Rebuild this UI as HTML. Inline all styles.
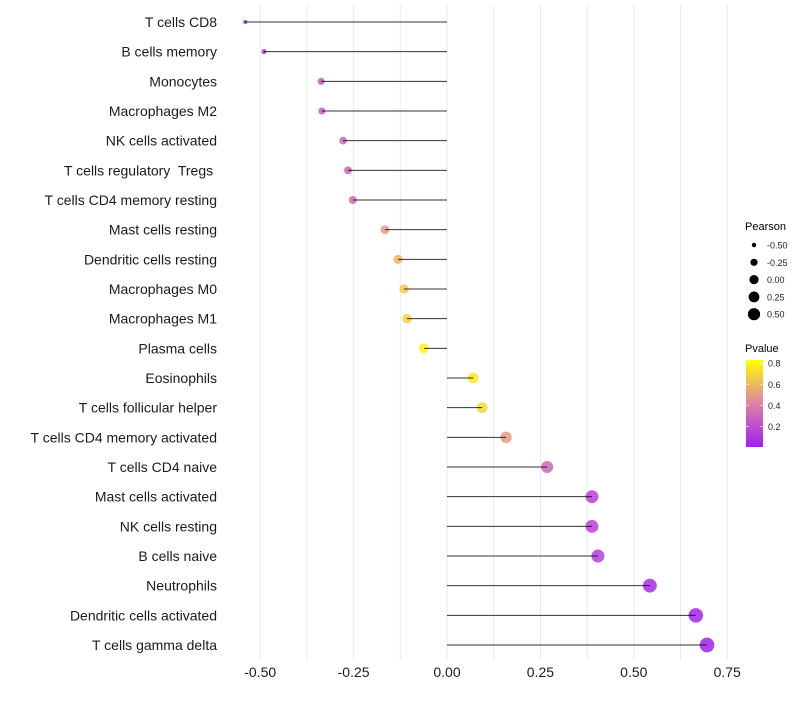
<!DOCTYPE html>
<html><head><meta charset="utf-8"><style>
body{margin:0;background:#fff;font-family:"Liberation Sans",sans-serif}
svg text{font-family:"Liberation Sans",sans-serif;white-space:pre}
</style></head><body>
<svg id="chart" width="800" height="700" viewBox="0 0 800 700">
<g id="grid"></g>
<g id="marks"></g>
<g id="ylab"></g>
<g id="xlab"></g>
<g id="legend"></g>
</svg>
<script>
const categories=["T cells CD8","B cells memory","Monocytes","Macrophages M2","NK cells activated","T cells regulatory  Tregs ","T cells CD4 memory resting","Mast cells resting","Dendritic cells resting","Macrophages M0","Macrophages M1","Plasma cells","Eosinophils","T cells follicular helper","T cells CD4 memory activated","T cells CD4 naive","Mast cells activated","NK cells resting","B cells naive","Neutrophils","Dendritic cells activated","T cells gamma delta"];
const pearson=[-0.54,-0.49,-0.337,-0.335,-0.278,-0.265,-0.252,-0.166,-0.131,-0.115,-0.107,-0.062,0.07,0.094,0.158,0.268,0.388,0.388,0.404,0.543,0.666,0.696];
const pvalue=[0.05,0.07,0.25,0.25,0.3,0.3,0.32,0.5,0.6,0.65,0.68,0.8,0.75,0.7,0.5,0.3,0.15,0.15,0.13,0.05,0.02,0.01];
const xTicks=[-0.5,-0.25,0,0.25,0.5,0.75];
const xTickLabels=["-0.50","-0.25","0.00","0.25","0.50","0.75"];
const sizeBreaks=[-0.5,-0.25,0,0.25,0.5];
const sizeLabels=["-0.50","-0.25","0.00","0.25","0.50"];
const pBreaks=[0.2,0.4,0.6,0.8];
const pLabels=["0.2","0.4","0.6","0.8"];
const NS="http://www.w3.org/2000/svg";
function mk(t,a,p){const e=document.createElementNS(NS,t);for(const k in a)e.setAttribute(k,a[k]);p.appendChild(e);return e;}
const x=v=>447+v*373.6;
const y=i=>22+i*29.667;
const r=v=>Math.sqrt(Math.max(1,26+40*v));
const pMin=0.005,pMax=0.83;
function lerp(a,b,t){return a+(b-a)*t}
const stops=[[0,[160,32,240]],[0.5,[222,130,165]],[1,[255,255,0]]];
function col(p){let t=Math.min(1,Math.max(0,(p-pMin)/(pMax-pMin)));let i=t<0.5?0:1;let s0=stops[i],s1=stops[i+1];let u=(t-s0[0])/(s1[0]-s0[0]);return "rgb("+s0[1].map((c,k)=>Math.round(lerp(c,s1[1][k],u))).join(",")+")";}
const grid=document.getElementById('grid');
for(let v=-0.5;v<=0.751;v+=0.125){const l=mk('line',{x1:x(v),x2:x(v),y1:5,y2:660,stroke:'#ebebeb','stroke-width':1},grid);}
const marks=document.getElementById('marks'),ylab=document.getElementById('ylab');
categories.forEach((c,i)=>{
 const d=mk('circle',{cx:x(pearson[i]),cy:y(i),r:r(pearson[i]),fill:col(pvalue[i]),'fill-opacity':0.85},marks);
 
 const l=mk('line',{x1:x(0),x2:x(pearson[i]),y1:y(i),y2:y(i),stroke:'#000','stroke-width':1,'stroke-opacity':0.8},marks);
 
 const t=mk('text',{x:217,y:y(i)+5,'text-anchor':'end','font-size':14,fill:'#1a1a1a'},ylab);t.textContent=c;
 
});
const xlab=document.getElementById('xlab');
xTicks.forEach((v,i)=>{const t=mk('text',{x:x(v),y:677,'text-anchor':'middle','font-size':14,fill:'#1a1a1a'},xlab);t.textContent=xTickLabels[i];});
const lg=document.getElementById('legend');
let t=mk('text',{x:745,y:230,'font-size':11,fill:'#000'},lg);t.textContent='Pearson';
sizeBreaks.forEach((v,i)=>{const cy=245+i*17.3;const c=mk('circle',{cx:754,cy:cy,r:r(v)*0.9,fill:'#000'},lg);
 const s=mk('text',{x:767,y:cy+3.5,'font-size':9,fill:'#222'},lg);s.textContent=sizeLabels[i];});
t=mk('text',{x:745,y:352,'font-size':11,fill:'#000'},lg);t.textContent='Pvalue';
const defs=mk('defs',{},lg);const gr=mk('linearGradient',{id:'pg',x1:0,y1:1,x2:0,y2:0},defs);
stops.forEach(s=>mk('stop',{offset:s[0],'stop-color':'rgb('+s[1].join(',')+')'},gr));
const py=p=>447-(p-pMin)/(pMax-pMin)*87;
const bar=mk('rect',{x:746,y:360,width:17,height:87,fill:'url(#pg)'},lg);
pBreaks.forEach((p,i)=>{mk('line',{x1:746,x2:749,y1:py(p),y2:py(p),stroke:'#fff','stroke-width':0.6},lg);mk('line',{x1:760,x2:763,y1:py(p),y2:py(p),stroke:'#fff','stroke-width':0.6},lg);
 const s=mk('text',{x:768,y:py(p)+3.5,'font-size':9,fill:'#222'},lg);s.textContent=pLabels[i];});
</script>
</body></html>
